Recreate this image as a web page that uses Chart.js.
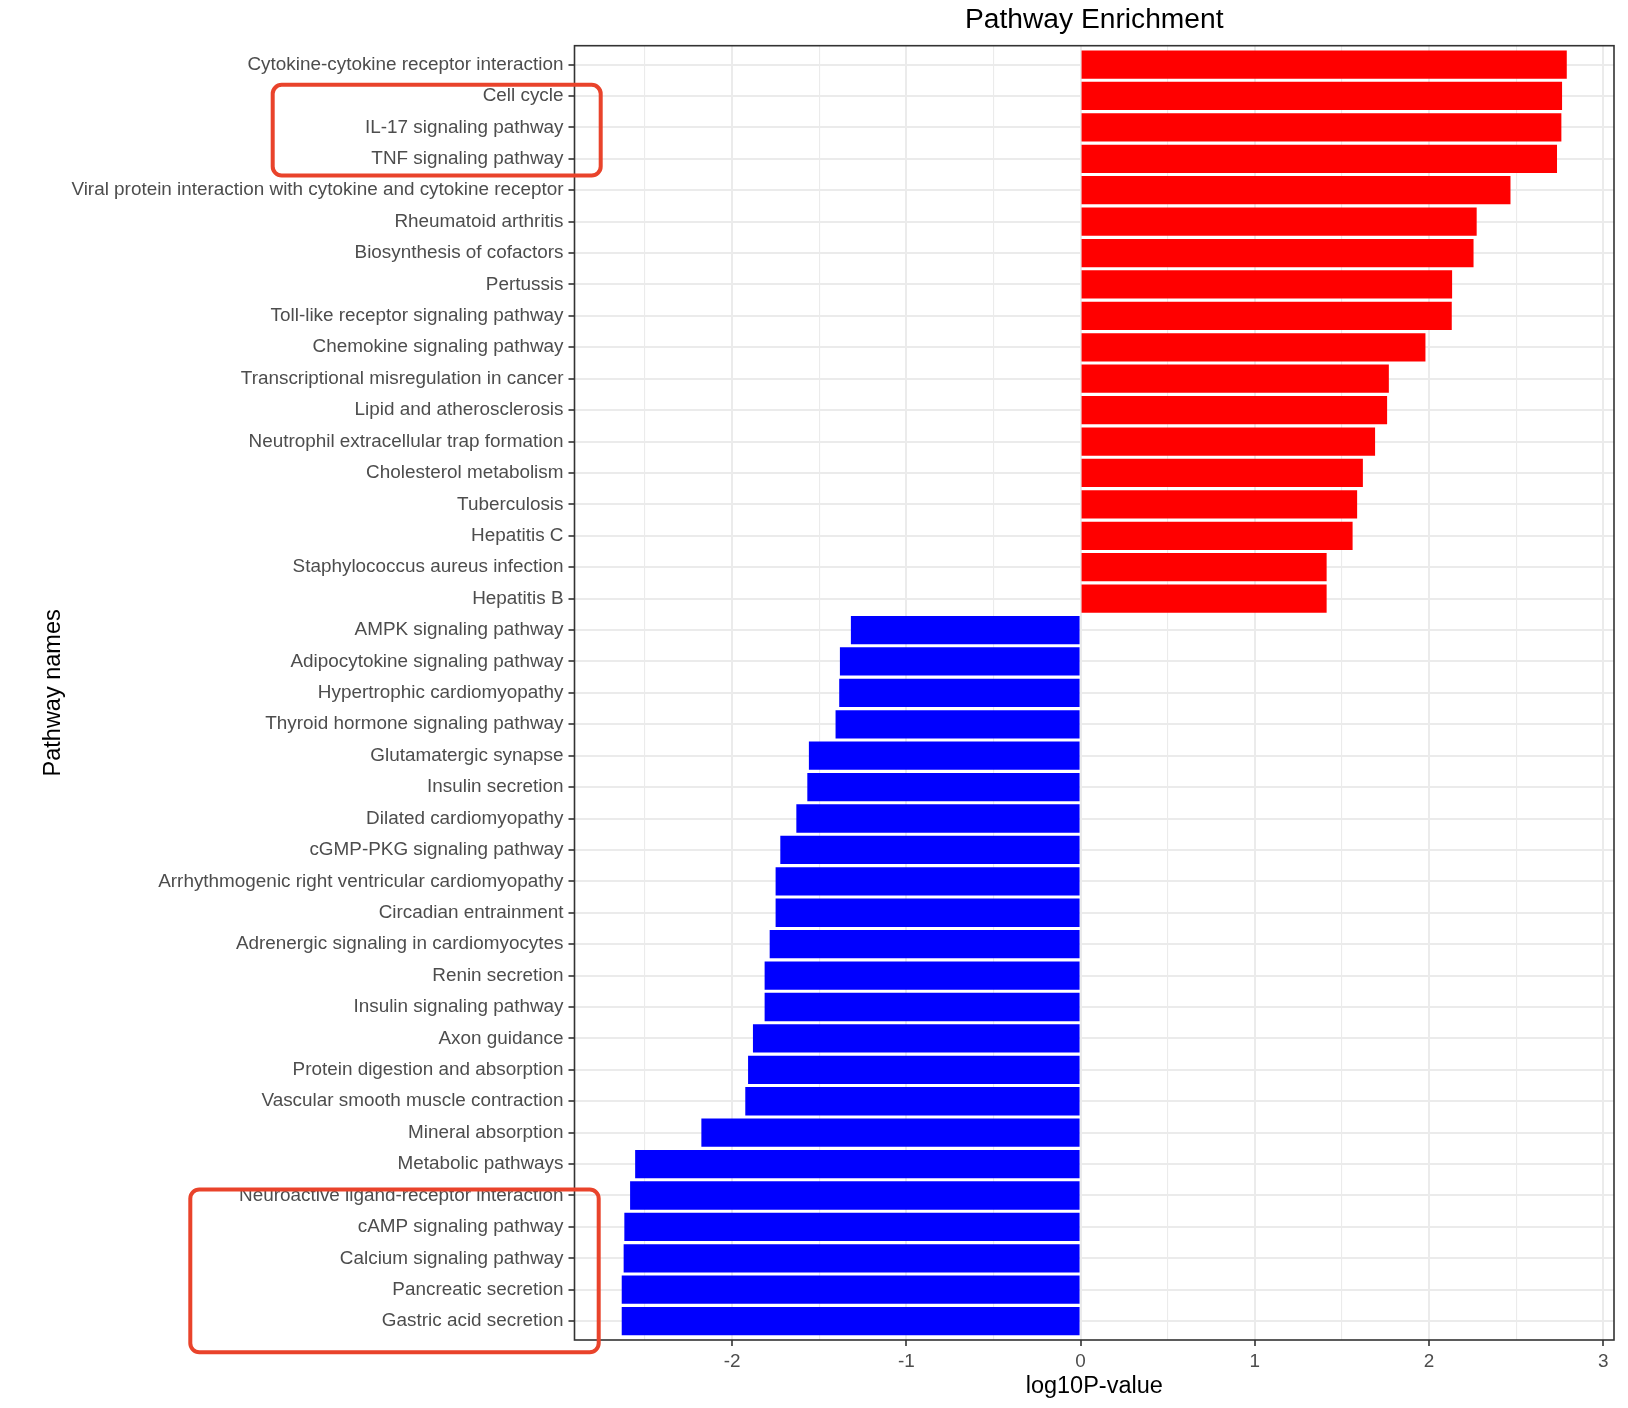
<!DOCTYPE html>
<html><head><meta charset="utf-8">
<script src="https://cdn.jsdelivr.net/npm/chart.js@4"></script>
<style>html,body{margin:0;padding:0;background:#fff}#wrap{width:1628px;height:1408px;position:relative}</style>
</head><body><div id="wrap"><canvas id="c"></canvas></div>
<script>
const categories = [
  'Cytokine-cytokine receptor interaction','Cell cycle','IL-17 signaling pathway','TNF signaling pathway',
  'Viral protein interaction with cytokine and cytokine receptor','Rheumatoid arthritis','Biosynthesis of cofactors',
  'Pertussis','Toll-like receptor signaling pathway','Chemokine signaling pathway','Transcriptional misregulation in cancer',
  'Lipid and atherosclerosis','Neutrophil extracellular trap formation','Cholesterol metabolism','Tuberculosis','Hepatitis C',
  'Staphylococcus aureus infection','Hepatitis B','AMPK signaling pathway','Adipocytokine signaling pathway',
  'Hypertrophic cardiomyopathy','Thyroid hormone signaling pathway','Glutamatergic synapse','Insulin secretion',
  'Dilated cardiomyopathy','cGMP-PKG signaling pathway','Arrhythmogenic right ventricular cardiomyopathy',
  'Circadian entrainment','Adrenergic signaling in cardiomyocytes','Renin secretion','Insulin signaling pathway',
  'Axon guidance','Protein digestion and absorption','Vascular smooth muscle contraction','Mineral absorption',
  'Metabolic pathways','Neuroactive ligand-receptor interaction','cAMP signaling pathway','Calcium signaling pathway',
  'Pancreatic secretion','Gastric acid secretion'
];
const values = [
  2.790, 2.763, 2.759, 2.734, 2.467, 2.273, 2.255, 2.132, 2.130, 1.979,
  1.769, 1.759, 1.690, 1.620, 1.587, 1.561, 1.412, 1.412,
  -1.318, -1.381, -1.385, -1.406, -1.559, -1.568, -1.631, -1.723, -1.750, -1.750,
  -1.784, -1.813, -1.813, -1.880, -1.908, -1.924, -2.176, -2.556, -2.585, -2.618,
  -2.622, -2.633, -2.633
];
const xTickValues = [-2.5, -2, -1.5, -1, -0.5, 0, 0.5, 1, 1.5, 2, 2.5, 3];
const xTickLabels = ['', '-2', '', '-1', '', '0', '', '1', '', '2', '', '3'];
const chartTitle = 'Pathway Enrichment';
const xTitle = 'log10P-value';
const yTitle = 'Pathway names';

const FONT = "'Liberation Sans', Arial, sans-serif";
const isMajor = v => xTickLabels[xTickValues.indexOf(v)] !== '';

const boxes = [
  {from: 0.646, to: 3.53, left: 272.7, rightOffset: 26.2},
  {from: 35.81, to: 40.99, left: 190.3, rightOffset: 24.2}
];

const panelBorder = {
  id: 'panelBorder',
  afterDatasetsDraw(chart) {
    const {ctx, chartArea: a} = chart;
    ctx.save();
    ctx.strokeStyle = '#333333';
    ctx.lineWidth = 1.6;
    ctx.strokeRect(a.left, a.top, a.right - a.left, a.bottom - a.top);
    ctx.restore();
  }
};
const highlightBoxes = {
  id: 'highlightBoxes',
  afterDraw(chart) {
    const {ctx, chartArea, scales: {y}} = chart;
    ctx.save();
    ctx.strokeStyle = '#E9432B';
    ctx.lineWidth = 4;
    boxes.forEach(b => {
      const top = y.getPixelForValue(b.from), bottom = y.getPixelForValue(b.to);
      const left = b.left, right = chartArea.left + b.rightOffset;
      ctx.beginPath();
      ctx.roundRect(left, top, right - left, bottom - top, 9);
      ctx.stroke();
    });
    ctx.restore();
  }
};

new Chart(document.getElementById('c'), {
  type: 'bar',
  data: {
    datasets: [{
      data: values.map((v, i) => ({x: v, y: i})),
      backgroundColor: values.map(v => v >= 0 ? '#FF0000' : '#0000FF'),
      borderWidth: 0,
      barPercentage: 0.9,
      categoryPercentage: 1.0
    }]
  },
  options: {
    indexAxis: 'y',
    responsive: true,
    maintainAspectRatio: false,
    animation: false,
    devicePixelRatio: 1,
    layout: {padding: {left: 0, right: 14, top: 0, bottom: 0}},
    plugins: {legend: {display: false}, tooltip: {enabled: false}},
    scales: {
      x: {
        type: 'linear', position: 'bottom', min: -2.904, max: 3.061, offset: false,
        afterBuildTicks: s => { s.ticks = xTickValues.map(v => ({value: v})); },
        afterFit: s => { s.height = 68; },
        ticks: {
          autoSkip: false, maxRotation: 0, padding: 4,
          callback: v => xTickLabels[xTickValues.indexOf(v)] ?? '',
          color: '#4D4D4D', font: {family: FONT, size: 18.9}
        },
        grid: {
          offset: false,
          color: '#EBEBEB',
          lineWidth: c => isMajor(c.tick.value) ? 2 : 1.1,
          tickColor: c => isMajor(c.tick.value) ? '#333333' : 'rgba(0,0,0,0)',
          tickWidth: 1.6, tickLength: 6
        },
        border: {display: false},
        title: {display: true, text: xTitle, color: '#000', font: {family: FONT, size: 23.5}, padding: {top: 0, bottom: 7}}
      },
      x2: {
        type: 'linear', position: 'top', min: 0, max: 1,
        afterFit: s => { s.height = 45.7; },
        grid: {display: false, drawTicks: false},
        ticks: {display: false},
        border: {display: false},
        title: {display: true, text: chartTitle, color: '#000', font: {family: FONT, size: 28.2}, padding: {top: 3.5, bottom: 0}}
      },
      y: {
        type: 'linear', position: 'left', min: -0.6, max: 40.6, reverse: true, offset: false,
        afterBuildTicks: s => { s.ticks = categories.map((_, i) => ({value: i})); },
        afterFit: s => { s.width = 574.5; },
        ticks: {
          autoSkip: false, padding: 5,
          callback: v => categories[v],
          color: '#4D4D4D', font: {family: FONT, size: 18.9}
        },
        grid: {offset: false, color: '#EBEBEB', lineWidth: 2, tickColor: '#333333', tickWidth: 1.6, tickLength: 6},
        border: {display: false},
        title: {display: true, text: yTitle, color: '#000', font: {family: FONT, size: 23.5}, padding: {top: 39.4, bottom: 0}}
      }
    }
  },
  plugins: [panelBorder, highlightBoxes]
});
</script>
</body></html>
